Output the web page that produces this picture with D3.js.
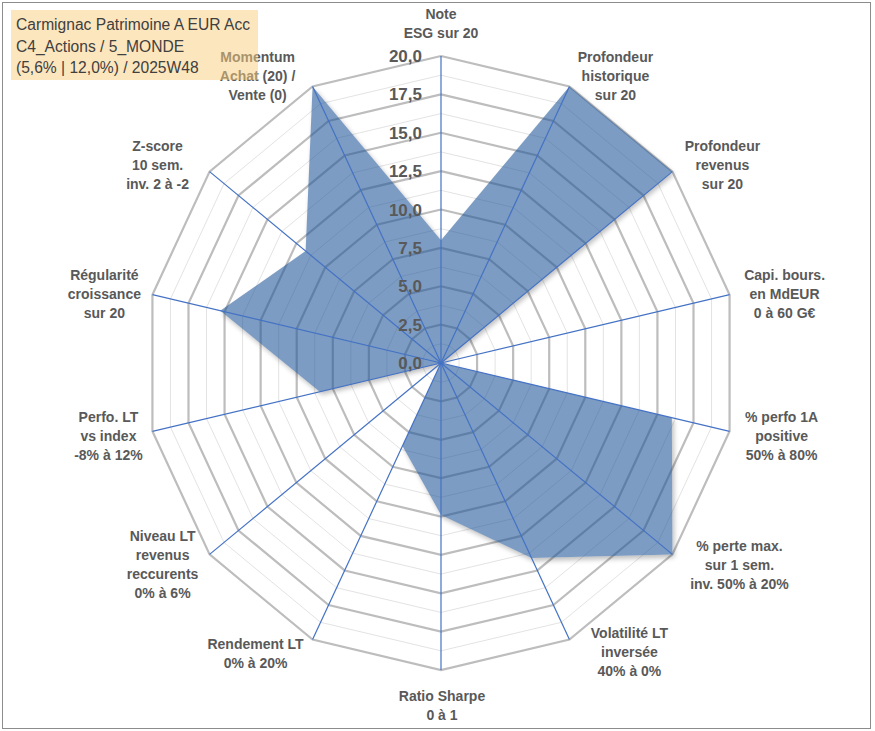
<!DOCTYPE html>
<html><head><meta charset="utf-8">
<script src="https://cdn.jsdelivr.net/npm/d3@7"></script>
<style>html,body{margin:0;padding:0;background:#fff;} svg{display:block;}</style>
</head><body>
<svg id="chart" width="875" height="731"></svg>
<script>
// ---------- DATA ----------
const titleLines = ["Carmignac Patrimoine A EUR Acc", "C4_Actions / 5_MONDE", "(5,6% | 12,0%) / 2025W48"];
const categories = [
  ["Note", "ESG sur 20"],
  ["Profondeur", "historique", "sur 20"],
  ["Profondeur", "revenus", "sur 20"],
  ["Capi. bours.", "en MdEUR", "0 à 60 G€"],
  ["% perfo 1A", "positive", "50% à 80%"],
  ["% perte max.", "sur 1 sem.", "inv. 50% à 20%"],
  ["Volatilité LT", "inversée", "40% à 0%"],
  ["Ratio Sharpe", "0 à 1"],
  ["Rendement LT", "0% à 20%"],
  ["Niveau LT", "revenus", "reccurents", "0% à 6%"],
  ["Perfo. LT", "vs index", "-8% à 12%"],
  ["Régularité", "croissance", "sur 20"],
  ["Z-score", "10 sem.", "inv. 2 à -2"],
  ["Momentum", "Achat (20) /", "Vente (0)"]
];
const values = [8, 20, 20, 0, 16, 20, 14.1, 9.9, 6, 0, 8.4, 15.3, 11.7, 20];
const tickValues = [0, 2.5, 5, 7.5, 10, 12.5, 15, 17.5, 20];
const minorStep = 1.25;
const valueMax = 20;

// ---------- LAYOUT (label nudges from axis end, px) ----------
const labelNudge = [[0,-32],[46,-10],[50,-6],[55,-1],[52,5],[67,11],[60,13],[1,36],[-57,14],[-47,10],[-44,5],[-48,-1],[-52,-6],[-55,-10]];

const W = 875, H = 731, cx = 441, cy = 363;
const svg = d3.select("#chart");
const n = categories.length;
const rX = d3.scaleLinear().domain([0, valueMax]).range([0, 296]);
const rY = d3.scaleLinear().domain([0, valueMax]).range([0, 307]);
const ang = d3.scaleLinear().domain([0, n]).range([0, 2 * Math.PI]);
const px = (i, v) => cx + rX(v) * Math.sin(ang(i));
const py = (i, v) => cy - rY(v) * Math.cos(ang(i));
const fr = d3.formatLocale({decimal: ",", thousands: " ", grouping: [3], currency: ["", "€"]}).format(".1f");
const seriesLine = d3.line().x((v, i) => px(i, v)).y((v, i) => py(i, v)).curve(d3.curveLinearClosed);

const defs = svg.append("defs");
defs.append("filter").attr("id", "blur").attr("x", "-10%").attr("y", "-10%").attr("width", "120%").attr("height", "120%")
  .append("feGaussianBlur").attr("stdDeviation", 2.5);
const mask = defs.append("mask").attr("id", "outside").attr("maskUnits", "userSpaceOnUse")
  .attr("x", 0).attr("y", 0).attr("width", W).attr("height", H);
mask.append("rect").attr("x", 0).attr("y", 0).attr("width", W).attr("height", H).attr("fill", "#fff");
mask.append("path").attr("d", seriesLine(values)).attr("fill", "#000");

svg.append("rect").attr("x", 0).attr("y", 0).attr("width", W).attr("height", H).attr("fill", "#fff");
svg.append("rect").attr("x", 2.5).attr("y", 2.5).attr("width", 868).attr("height", 726)
  .attr("fill", "none").attr("stroke", "#8c8c8c").attr("stroke-width", 1);

const idx = d3.range(n);
const ring = v => d3.line().x(i => px(i, v)).y(i => py(i, v))(idx.concat([0]));

// grid
const levels = d3.range(minorStep, valueMax + 1e-9, minorStep);
const isMajor = v => Math.abs(v / 2.5 - Math.round(v / 2.5)) < 1e-6;
svg.append("g").selectAll("path").data(levels.filter(v => !isMajor(v))).join("path")
  .attr("d", ring).attr("fill", "none").attr("stroke", "#e3e3e3").attr("stroke-width", 1);
svg.append("g").selectAll("path").data(levels.filter(isMajor)).join("path")
  .attr("d", ring).attr("fill", "none").attr("stroke", "#bdbdbd").attr("stroke-width", 2.2);

// series (shadow outside only, then translucent fill)
svg.append("g").attr("mask", "url(#outside)")
  .append("path").attr("d", seriesLine(values)).attr("fill", "#000").attr("opacity", 0.25)
  .attr("transform", "translate(2,3)").attr("filter", "url(#blur)");
svg.append("path").attr("d", seriesLine(values)).attr("fill", "#1f5598").attr("fill-opacity", 0.58).attr("stroke", "none");

// spokes
svg.append("g").selectAll("line").data(idx).join("line")
  .attr("x1", cx).attr("y1", cy).attr("x2", i => px(i, valueMax)).attr("y2", i => py(i, valueMax))
  .attr("stroke", "#4472c4").attr("stroke-width", 1.2);

// tick labels
svg.append("g").selectAll("text").data(tickValues).join("text")
  .attr("x", v => px(0, v) - 19).attr("y", v => py(0, v)).attr("dy", "0.36em")
  .attr("text-anchor", "end").attr("font-family", "Liberation Sans, Arial, sans-serif")
  .attr("font-weight", "bold").attr("font-size", 17).attr("fill", "#595959")
  .text(v => fr(v));

// axis labels
const lg = svg.append("g").attr("font-family", "Liberation Sans, Arial, sans-serif")
  .attr("font-weight", "bold").attr("font-size", 14).attr("fill", "#595959").attr("text-anchor", "middle");
categories.forEach((lines, i) => {
  const x0 = px(i, valueMax) + labelNudge[i][0];
  const y0 = py(i, valueMax) + labelNudge[i][1];
  lines.forEach((t, k) => {
    lg.append("text").attr("x", x0).attr("y", y0 + (k - (lines.length - 1) / 2) * 19)
      .attr("dy", "0.35em").text(t);
  });
});

// title box
svg.append("rect").attr("x", 11).attr("y", 10).attr("width", 247).attr("height", 70)
  .attr("fill", "#f9cd7d").attr("opacity", 0.5);
svg.append("g").selectAll("text").data(titleLines).join("text")
  .attr("x", 16).attr("y", (d, i) => 30 + i * 21.5)
  .attr("font-family", "Liberation Sans, Arial, sans-serif").attr("font-size", 15.6).attr("fill", "#404040")
  .text(d => d);
</script>
</body></html>
